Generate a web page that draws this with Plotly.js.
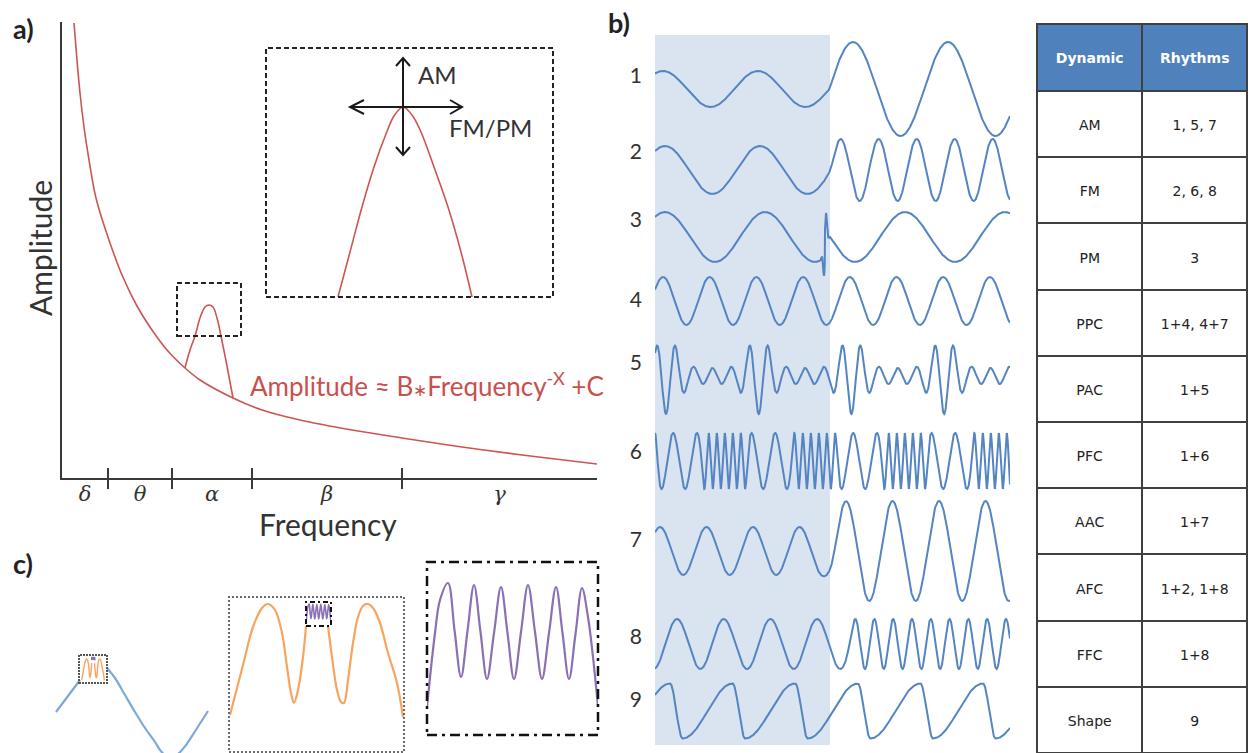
<!DOCTYPE html>
<html>
<head>
<meta charset="utf-8">
<script src="https://cdn.plot.ly/plotly-3.0.1.min.js"></script>
<style>html,body{margin:0;padding:0;background:#fff;}#chart{width:1248px;height:753px;}</style>
</head>
<body>
<div id="chart"></div>
<script>
// ================= DATA =================
// a) power spectrum (arbitrary units)
const spectrumFreq = [12, 15, 18, 22, 27, 32, 35, 48, 60, 75, 90, 105, 123, 138, 171, 200, 238, 290, 340, 400, 460, 535];
const spectrumAmp  = [455, 418, 385, 351, 318, 289, 276, 235, 203, 172, 148, 128, 110, 98, 80, 68, 58, 48, 40, 31, 23, 14];
// alpha peak riding on the spectrum
const alphaFreq = [123, 128, 133, 138, 143, 147, 151, 155, 159, 165, 171];
const alphaAmp  = [110, 128, 142, 160, 171, 173, 171, 160, 142, 112, 80];
// zoom window around the alpha peak
const zoomFreq = [115, 179];
const zoomAmp  = [142, 195];
// magnified alpha peak (inset)
const insetFreq = [72, 84, 96, 108, 120, 128, 137, 146, 155, 168, 182, 195, 206];
const insetAmp  = [0, 45, 90, 130, 163, 181, 190, 182, 165, 130, 90, 45, 0];
// frequency bands
const bandNames = ['δ', 'θ', 'α', 'β', 'γ'];
const bandEdges = [0, 46, 110, 190, 340, 535];

// b) rhythms 1-9 (time in samples, 0..355; shaded epoch 0..175)
const rowLabels = ['1', '2', '3', '4', '5', '6', '7', '8', '9'];
const epochEnd = 175;
const epochLength = 355;
const row1Period = [95, 95],   row1Amp = [18, 47], row1PeakT = 8;
const row2Period = [95, 38],   row2Amp = [24, 31], row2PeakT = 10;
const row3Period = [100],      row3Amp = [25],     row3PeakT = 10, row3ResetT = 170, row3PhaseJump = -0.8;
const row4Period = [46.7],     row4Amp = [24],     row4PeakT = 8;
const row5SlowPeriod = 92.7,   row5FastCycles = 5, row5Amp = [8, 30], row5PeakT = 11;
const row6Period = [24, 8],    row6SlowPeriod = 90, row6Amp = [28], row6PeakT = 25;
const row7Period = [46.5],     row7Amp = [24, 50], row7PeakT = 5;
const row8Period = [46.7, 18.8], row8Amp = [25],   row8PeakT = 22;
const row9Period = [62.6],     row9Amp = [27.5],   row9PeakT = 15, row9DropFraction = 0.2;

// table
const dynamics = ['AM', 'FM', 'PM', 'PPC', 'PAC', 'PFC', 'AAC', 'AFC', 'FFC', 'Shape'];
const rhythms  = ['1, 5, 7', '2, 6, 8', '3', '1+4, 4+7', '1+5', '1+6', '1+7', '1+2, 1+8', '1+8', '9'];

// c) nested oscillations
const slowLeftT  = [6, 12, 18, 24, 30];
const slowLeftV  = [0, 8, 16, 24, 32];
const slowRightT = [57, 65, 75, 85, 95, 105, 110, 116, 122, 128, 136, 144, 151, 158];
const slowRightV = [44, 34, 17, 0, -16, -30, -38, -44, -45, -42, -33, -21, -10, 1];
const midLeftT  = [1, 14, 24, 33, 39, 46, 53, 58, 62, 65, 69, 74, 77];
const midLeftV  = [37, 87, 125, 144, 148, 142, 119, 85, 59, 49, 62, 95, 126];
const midRightT = [99, 103, 108, 112, 115, 119, 124, 129, 134, 139, 144, 151, 159, 168, 174];
const midRightV = [126, 95, 62, 50, 49, 72, 109, 135, 146, 148, 144, 129, 99, 69, 35];
const fastT = [0, 8, 13, 21, 27.5, 34, 40.5, 47, 53.5, 60, 67, 74, 80.5, 87, 94, 101, 108, 115, 122, 129, 135.5, 142, 148.5, 155, 161, 166, 171];
const fastV = [28, 102, 135, 152, 105, 58, 104, 150, 103, 56, 102, 148, 102, 56, 103, 150, 103, 56, 102, 148, 102, 56, 101, 147, 118, 78, 28];

// ================= helpers =================
const W = 1248, H = 753;
const fx = p => p / W;
const fy = p => 1 - p / H;
const dx = (a, b) => [a / W, b / W];
const dy = (top, bottom) => [1 - bottom / H, 1 - top / H];
const sig = z => 1 / (1 + Math.exp(-z));
const TAU = 2 * Math.PI;

const red = '#cc5552', blue = '#5484c2', lightBlue = '#7ea8da', orange = '#f7a55e', purple = '#8a70b4';

const tS = [];
for (let t = 0; t <= epochLength + 1e-9; t += 0.25) tS.push(t);

function integrate(freqFn, phi0) {
  const out = []; let phi = phi0;
  for (let i = 0; i < tS.length; i++) {
    if (i > 0) { const d = tS[i] - tS[i - 1]; phi += TAU * d * freqFn(tS[i] - d / 2); }
    out.push(phi);
  }
  return out;
}

function row1() { return tS.map(t => (row1Amp[0] + (row1Amp[1] - row1Amp[0]) * sig((t - 174.3) / 1.5)) * Math.cos(TAU * (t - row1PeakT) / row1Period[0])); }
function row2() {
  const ph = integrate(t => 1 / row2Period[0] + (1 / row2Period[1] - 1 / row2Period[0]) * sig((t - 176) / 1.5), -TAU * row2PeakT / row2Period[0]);
  return tS.map((t, i) => (row2Amp[0] + (row2Amp[1] - row2Amp[0]) * sig((t - 176) / 2)) * Math.cos(ph[i]));
}
function row3() {
  return tS.map(t => {
    let ph = TAU * (t - row3PeakT) / row3Period[0];
    if (t >= row3ResetT) ph += row3PhaseJump * Math.PI;
    const g = 22 * Math.exp(-Math.pow((t - row3ResetT) / 2.5, 2)) * Math.sin(TAU * (t - row3ResetT) / 5);
    return row3Amp[0] * Math.cos(ph) + g;
  });
}
function row4() { return tS.map(t => row4Amp[0] * Math.cos(TAU * (t - row4PeakT) / row4Period[0])); }
function row5() {
  return tS.map(t => {
    const m = (1 + Math.cos(TAU * (t - row5PeakT) / row5SlowPeriod)) / 2;
    const a = row5Amp[0] + row5Amp[1] * m * m * m;
    return -a * Math.cos(TAU * (t - row5PeakT) * row5FastCycles / row5SlowPeriod);
  });
}
function row6() {
  const ph = integrate(t => 1 / row6Period[0] + (1 / row6Period[1] - 1 / row6Period[0]) * sig(-8 * Math.cos(TAU * (t - row6PeakT) / row6SlowPeriod)), 0);
  return ph.map(p => row6Amp[0] * Math.cos(p));
}
function row7() { return tS.map(t => (row7Amp[0] + (row7Amp[1] - row7Amp[0]) * sig((t - 177) / 3)) * Math.cos(TAU * (t - row7PeakT) / row7Period[0])); }
function row8() {
  const ph = integrate(t => 1 / row8Period[0] + (1 / row8Period[1] - 1 / row8Period[0]) * sig((t - 195) / 3), -TAU * row8PeakT / row8Period[0]);
  return ph.map(p => row8Amp[0] * Math.cos(p));
}
function row9() {
  const d = row9DropFraction;
  return tS.map(t => {
    let p = ((t - row9PeakT) / row9Period[0]) % 1; if (p < 0) p += 1;
    return row9Amp[0] * (p < d ? Math.cos(Math.PI * p / d) : -Math.cos(Math.PI * (p - d) / (1 - d)));
  });
}
const rowValues = [row1(), row2(), row3(), row4(), row5(), row6(), row7(), row8(), row9()];

// ================= layout constants =================
const rowCenters = [89, 170, 237, 301, 376, 461, 551, 644, 711];
const rowLabelPos = [76, 152, 220, 300, 363, 452, 540, 637, 700];
const bandCenters = bandEdges.slice(0, -1).map((e, i) => (e + bandEdges[i + 1]) / 2);

const traces = [];
const lineTrace = (x, y, xa, ya, color, width, shape) => ({
  type: 'scatter', mode: 'lines', x: x, y: y, xaxis: xa, yaxis: ya, hoverinfo: 'skip',
  line: {color: color, width: width, shape: shape || 'spline', smoothing: 1}
});

// a)
traces.push(lineTrace(spectrumFreq, spectrumAmp, 'x', 'y', red, 1.6));
traces.push(lineTrace(alphaFreq, alphaAmp, 'x', 'y', red, 1.6));
traces.push(lineTrace(insetFreq, insetAmp, 'x2', 'y2', red, 1.6));
// b)
rowValues.forEach((vals, i) => {
  traces.push(lineTrace(tS, vals.map(v => rowCenters[i] - v), 'x3', 'y3', blue, 2, 'linear'));
});
// c)
traces.push(lineTrace(slowLeftT, slowLeftV, 'x4', 'y4', lightBlue, 2.2));
traces.push(lineTrace(slowRightT, slowRightV, 'x4', 'y4', lightBlue, 2.2));
traces.push(lineTrace(midLeftT, midLeftV, 'x5', 'y5', orange, 2.2));
traces.push(lineTrace(midRightT, midRightV, 'x5', 'y5', orange, 2.2));
traces.push(lineTrace(midLeftT, midLeftV, 'x8', 'y8', orange, 1.4));
traces.push(lineTrace(midRightT, midRightV, 'x8', 'y8', orange, 1.4));
traces.push(lineTrace(fastT, fastV, 'x6', 'y6', purple, 2.2));
traces.push(lineTrace(fastT, fastV, 'x7', 'y7', purple, 1.6));
traces.push(lineTrace(fastT, fastV, 'x9', 'y9', purple, 1.2));

// table (leading non-breaking line keeps the text vertically centred in the tall rows)
const pad = s => '\u00a0<br>' + s;
traces.push({
  type: 'table',
  domain: {x: [1037 / W, 1], y: [0, 1 - 24 / H]},
  columnwidth: [106, 105],
  header: {
    values: [pad('<b>Dynamic</b>'), pad('<b>Rhythms</b>')], height: 67, align: 'center',
    fill: {color: '#4f81bd'}, line: {color: '#404040', width: 2},
    font: {family: '"DejaVu Sans", sans-serif', size: 14, color: '#ffffff'}
  },
  cells: {
    values: [dynamics.map(pad), rhythms.map(pad)], height: 66.2, align: 'center',
    fill: {color: '#ffffff'}, line: {color: '#404040', width: 2},
    font: {family: '"DejaVu Sans", sans-serif', size: 14, color: '#222222'}
  }
});

const hid = {visible: false, fixedrange: true, showgrid: false, zeroline: false};
const axisColor = '#3a3a3a';

const layout = {
  width: W, height: H, margin: {l: 0, r: 0, t: 0, b: 0},
  paper_bgcolor: '#ffffff', plot_bgcolor: 'rgba(0,0,0,0)', showlegend: false,
  font: {family: 'Lato, "Open Sans", sans-serif', color: '#333'},
  xaxis: {domain: dx(62, 597), range: [0, 535], anchor: 'y', fixedrange: true, showgrid: false, zeroline: false,
          showline: true, linecolor: axisColor, linewidth: 2, ticks: '', tickmode: 'array',
          tickvals: bandCenters, ticktext: bandNames.map(s => '<i>' + s + '</i>'), ticklabelstandoff: -4,
          tickfont: {family: '"DejaVu Serif", serif', size: 21, color: '#333'}},
  yaxis: {domain: dy(22, 478), range: [0, 456], anchor: 'x', fixedrange: true, showgrid: false, zeroline: false,
          showline: true, linecolor: axisColor, linewidth: 2, ticks: '', showticklabels: false},
  xaxis2: Object.assign({}, hid, {domain: dx(266, 553), range: [0, 287], anchor: 'y2'}),
  yaxis2: Object.assign({}, hid, {domain: dy(48, 297), range: [0, 249], anchor: 'x2'}),
  xaxis3: Object.assign({}, hid, {domain: dx(655, 1010), range: [0, epochLength], anchor: 'y3'}),
  yaxis3: {domain: [0, 1], range: [H, 0], anchor: 'x3', fixedrange: true, showgrid: false, zeroline: false,
           showline: false, ticks: '', tickmode: 'array', tickvals: rowLabelPos, ticktext: rowLabels,
           ticklabelstandoff: 12, tickfont: {size: 21, color: '#333'}},
  xaxis4: Object.assign({}, hid, {domain: dx(50, 215), range: [0, 165], anchor: 'y4'}),
  yaxis4: Object.assign({}, hid, {domain: dy(640, 753), range: [-41, 72], anchor: 'x4'}),
  xaxis5: Object.assign({}, hid, {domain: dx(229, 404), range: [0, 175], anchor: 'y5'}),
  yaxis5: Object.assign({}, hid, {domain: dy(597, 752), range: [0, 155], anchor: 'x5'}),
  xaxis6: Object.assign({}, hid, {domain: dx(427, 598), range: [0, 171], anchor: 'y6'}),
  yaxis6: Object.assign({}, hid, {domain: dy(562, 735), range: [0, 173], anchor: 'x6'}),
  xaxis7: Object.assign({}, hid, {domain: dx(306, 331), range: [0, 171], anchor: 'y7'}),
  yaxis7: Object.assign({}, hid, {domain: dy(602, 626), range: [10, 165], anchor: 'x7'}),
  xaxis8: Object.assign({}, hid, {domain: dx(79, 107), range: [-20, 195], anchor: 'y8'}),
  yaxis8: Object.assign({}, hid, {domain: dy(655, 683), range: [21, 169], anchor: 'x8'}),
  xaxis9: Object.assign({}, hid, {domain: dx(91, 95.5), range: [0, 171], anchor: 'y9'}),
  yaxis9: Object.assign({}, hid, {domain: dy(656.5, 661), range: [0, 173], anchor: 'x9'}),
  shapes: [],
  annotations: []
};

const S = layout.shapes;
// band tick marks crossing the frequency axis
bandEdges.slice(1, -1).forEach(e => S.push({type: 'line', xref: 'x', yref: 'paper', x0: e, x1: e, y0: fy(468), y1: fy(489), line: {color: axisColor, width: 2}}));
// zoom window on alpha peak + inset frame
S.push({type: 'rect', xref: 'x', yref: 'y', x0: zoomFreq[0], x1: zoomFreq[1], y0: zoomAmp[0], y1: zoomAmp[1], line: {color: '#222', width: 2, dash: '5px,3px'}});
S.push({type: 'rect', xref: 'x2 domain', yref: 'y2 domain', x0: 0, x1: 1, y0: 0, y1: 1, line: {color: '#222', width: 2, dash: '5px,3px'}});
// AM and FM/PM arrows in the inset
const arrowLine = {color: '#1a1a1a', width: 2};
S.push({type: 'line', xref: 'x2', yref: 'y2', x0: 137, x1: 137, y0: 142, y1: 239, line: arrowLine});
S.push({type: 'line', xref: 'x2', yref: 'y2', x0: 84, x1: 196, y0: 190, y1: 190, line: arrowLine});
S.push({type: 'path', xref: 'x2', yref: 'y2', path: 'M130,231L137,239L144,231', line: arrowLine});
S.push({type: 'path', xref: 'x2', yref: 'y2', path: 'M130,150L137,142L144,150', line: arrowLine});
S.push({type: 'path', xref: 'x2', yref: 'y2', path: 'M184,183L196,190L184,197', line: arrowLine});
S.push({type: 'path', xref: 'x2', yref: 'y2', path: 'M98,183L84,190L98,197', line: arrowLine});
// shaded epoch in b)
S.push({type: 'rect', xref: 'x3', yref: 'y3', x0: 0, x1: epochEnd, y0: 35, y1: 745, fillcolor: '#dae3f0', line: {width: 0}, layer: 'below'});
// c) frames
S.push({type: 'rect', xref: 'x8 domain', yref: 'y8 domain', x0: 0, x1: 1, y0: 0, y1: 1, line: {color: '#555', width: 2, dash: '2px,1px'}});
S.push({type: 'rect', xref: 'x5 domain', yref: 'y5 domain', x0: 0, x1: 1, y0: 0, y1: 1, line: {color: '#6a6a6a', width: 2, dash: '2px,2px'}});
S.push({type: 'rect', xref: 'x7 domain', yref: 'y7 domain', x0: 0, x1: 1, y0: 0, y1: 1, line: {color: '#111', width: 2, dash: '5px,3px,2px,3px'}});
S.push({type: 'rect', xref: 'x6 domain', yref: 'y6 domain', x0: 0, x1: 1, y0: 0, y1: 1, line: {color: '#111', width: 2.5, dash: '10px,5px,3px,5px'}});

// annotations
const ann = layout.annotations;
const panelFont = {family: 'Lato, sans-serif', size: 27, color: '#222'};
ann.push({text: '<b>a)</b>', xref: 'paper', yref: 'paper', x: fx(11), y: fy(29), xanchor: 'left', yanchor: 'middle', showarrow: false, font: panelFont});
ann.push({text: '<b>b)</b>', xref: 'paper', yref: 'paper', x: fx(606), y: fy(23), xanchor: 'left', yanchor: 'middle', showarrow: false, font: panelFont});
ann.push({text: '<b>c)</b>', xref: 'paper', yref: 'paper', x: fx(11), y: fy(563), xanchor: 'left', yanchor: 'middle', showarrow: false, font: panelFont});
ann.push({text: 'Frequency', xref: 'paper', yref: 'paper', x: fx(328), y: fy(524), xanchor: 'center', yanchor: 'middle', showarrow: false, font: {size: 30, color: '#333'}});
ann.push({text: 'Amplitude', xref: 'paper', yref: 'paper', x: fx(40), y: fy(248), xanchor: 'center', yanchor: 'middle', textangle: -90, showarrow: false, font: {size: 30, color: '#333'}});
ann.push({text: 'Amplitude ≈ B<span style="font-size:17px">∗</span>Frequency<sup>-X</sup> +C', xref: 'paper', yref: 'paper', x: fx(248), y: fy(384), xanchor: 'left', yanchor: 'middle', showarrow: false, font: {size: 26, color: '#c9504d'}});
ann.push({text: 'AM', xref: 'x2', yref: 'y2', x: 150, y: 222, xanchor: 'left', yanchor: 'middle', showarrow: false, font: {size: 24, color: '#333'}});
ann.push({text: 'FM/PM', xref: 'x2', yref: 'y2', x: 181, y: 169, xanchor: 'left', yanchor: 'middle', showarrow: false, font: {size: 24, color: '#333'}});

Plotly.newPlot('chart', traces, layout, {staticPlot: true, displayModeBar: false});
</script>
</body>
</html>
